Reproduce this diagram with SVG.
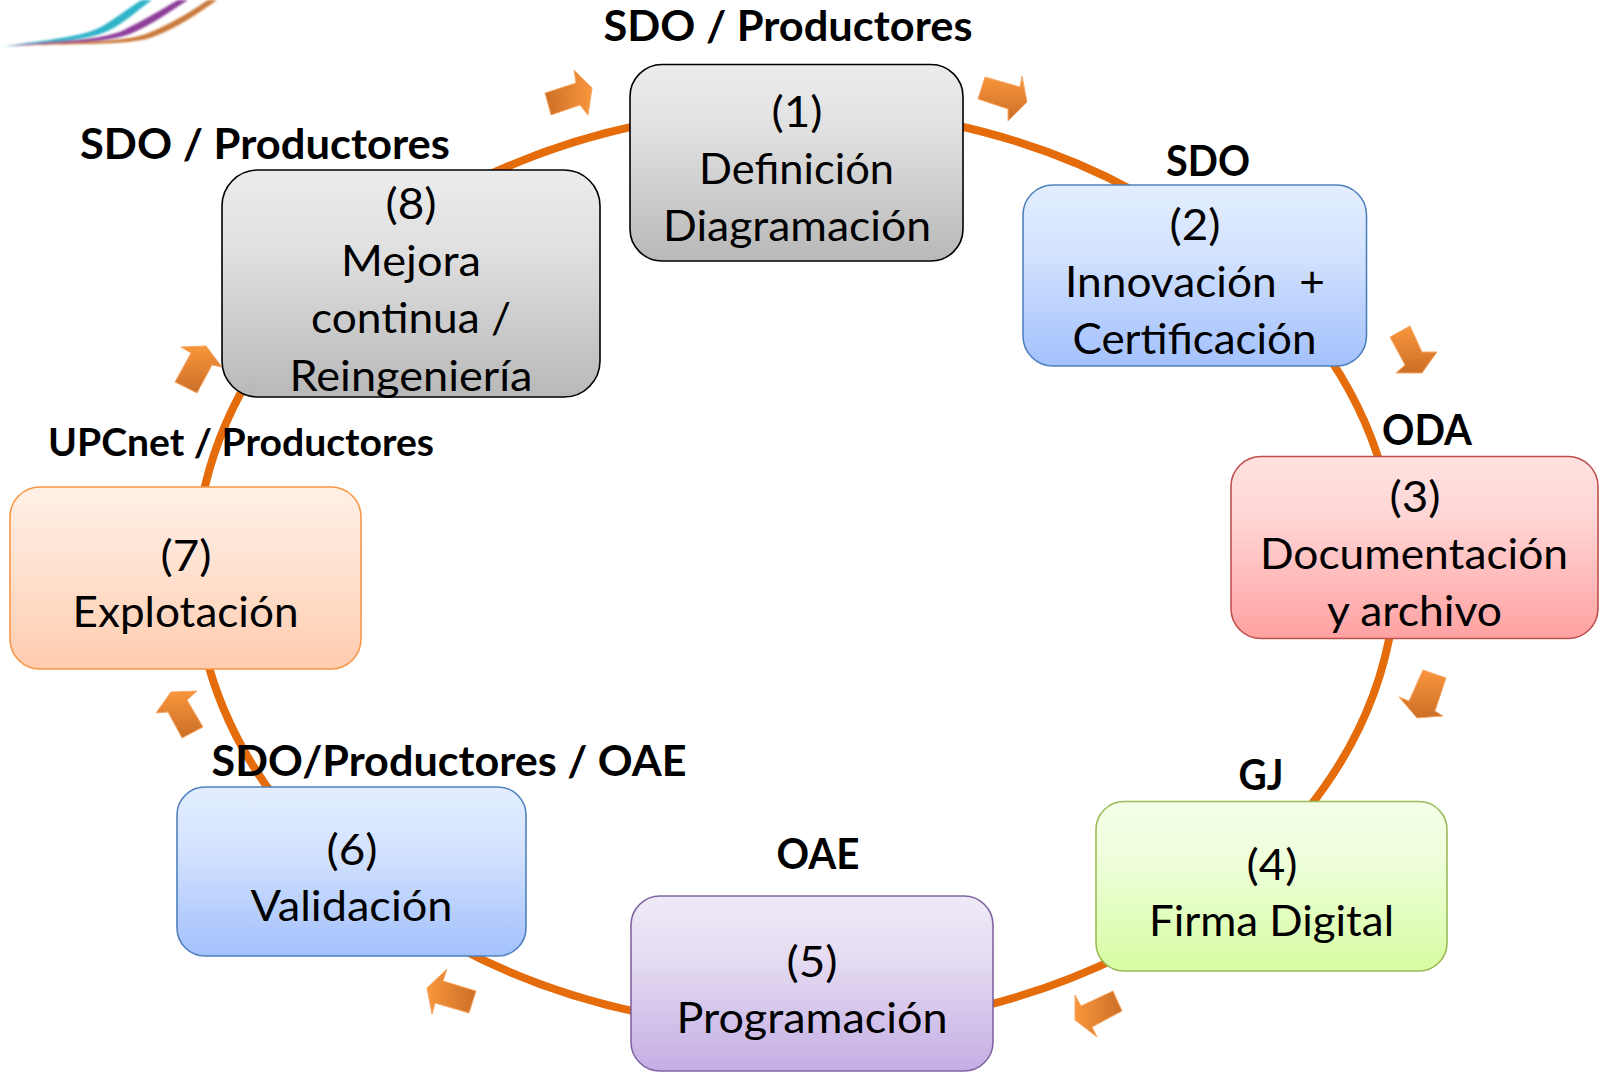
<svg xmlns="http://www.w3.org/2000/svg" width="1604" height="1074" viewBox="0 0 1604 1074">
<style>
.b{font:400 43px Lato,"Liberation Sans",sans-serif;fill:#000;text-anchor:middle}
.t{font:700 42px Lato,"Liberation Sans",sans-serif;fill:#000;text-anchor:middle}
.t2{font:700 38px Lato,"Liberation Sans",sans-serif;fill:#000;text-anchor:middle}
.r{stroke-width:1.6}
.l{fill:none;stroke:#E46C0A;stroke-width:8}
.a{stroke:#F9A766;stroke-width:1;stroke-linejoin:round}
</style>
<defs>
<linearGradient id="gGray" x1="0" y1="0" x2="0" y2="1"><stop offset="0" stop-color="#ECECEC"/><stop offset=".35" stop-color="#E0E0E0"/><stop offset="1" stop-color="#B8B8B8"/></linearGradient>
<linearGradient id="gBlue" x1="0" y1="0" x2="0" y2="1"><stop offset="0" stop-color="#E3EEFF"/><stop offset=".35" stop-color="#D5E3FE"/><stop offset="1" stop-color="#A3C1FD"/></linearGradient>
<linearGradient id="gRed" x1="0" y1="0" x2="0" y2="1"><stop offset="0" stop-color="#FFE2E1"/><stop offset=".35" stop-color="#FFD5D4"/><stop offset="1" stop-color="#FFA1A1"/></linearGradient>
<linearGradient id="gGreen" x1="0" y1="0" x2="0" y2="1"><stop offset="0" stop-color="#F4FFE8"/><stop offset=".35" stop-color="#EEFEDA"/><stop offset="1" stop-color="#D7FDA2"/></linearGradient>
<linearGradient id="gPurple" x1="0" y1="0" x2="0" y2="1"><stop offset="0" stop-color="#EFEAF7"/><stop offset=".35" stop-color="#E5DCF2"/><stop offset="1" stop-color="#C4AEE4"/></linearGradient>
<linearGradient id="gOrange" x1="0" y1="0" x2="0" y2="1"><stop offset="0" stop-color="#FFF0E6"/><stop offset=".35" stop-color="#FFE5D5"/><stop offset="1" stop-color="#FFCCAF"/></linearGradient>
<linearGradient id="aD" x1="0" y1="0" x2="0" y2="1"><stop offset="0" stop-color="#F9963C"/><stop offset="1" stop-color="#CB6F27"/></linearGradient>
<linearGradient id="aL" x1="0" y1="0" x2="1" y2="0"><stop offset="0" stop-color="#F9963C"/><stop offset="1" stop-color="#CB6F27"/></linearGradient>
<linearGradient id="aR" x1="0" y1="0" x2="1" y2="0"><stop offset="0" stop-color="#CB6F27"/><stop offset="1" stop-color="#F9963C"/></linearGradient>
<filter id="soft" x="-10%" y="-30%" width="120%" height="160%"><feGaussianBlur stdDeviation="0.8"/></filter>
</defs>

<g id="logo" filter="url(#soft)">
<path d="M2,47 C48,39 84,38 106,24 C122,14 134,4 142,0 L152,0 C140,8 128,20 112,29 C90,41 50,42 2,47Z" fill="#2FB3C8"/>
<path d="M8,46 C60,40 100,41 124,30 C146,19 166,7 178,0 L188,0 C172,10 152,25 130,34 C106,43 60,43 8,46Z" fill="#8E3C9A"/>
<path d="M14,46 C70,41 120,43 146,34 C172,24 196,8 208,0 L217,0 C200,12 176,29 150,38 C122,46 70,43 14,46Z" fill="#C9793A"/>
</g>

<g id="connectors">
<path class="l" d="M950,124 A598,460 0 0 1 1136,192"/>
<path class="l" d="M1320,344.5 A598,460 0 0 1 1382,470"/>
<path class="l" d="M1392.4,620 A598,460 0 0 1 1307,810"/>
<path class="l" d="M1125,954 A598,460 0 0 1 980,1007"/>
<path class="l" d="M640,1012.6 A598,460 0 0 1 460,948.5"/>
<path class="l" d="M280.500,805 A598,460 0 0 1 204.500,650"/>
<path class="l" d="M202,500 A598,460 0 0 1 248,380"/>
<path class="l" d="M480,179 A598,460 0 0 1 640,125"/>
<polygon class="a" fill="url(#aR)" points="545,93 551,115 580,105 588,115 592,88 574,70 576,83"/>
<polygon class="a" fill="url(#aD)" points="985,77 978,99 1008,109 1008,121 1027,102 1022,76 1020,87"/>
<polygon class="a" fill="url(#aD)" points="1390,337 1410,326 1422,352 1437,352 1422,373 1396,373 1405,365"/>
<polygon class="a" fill="url(#aD)" points="1423,670 1446,678 1435,711 1443,716 1417,718 1399,697 1409,701"/>
<polygon class="a" fill="url(#aL)" points="1113,991 1122,1011 1092,1027 1097,1037 1075,1020 1075,995 1081,1006"/>
<polygon class="a" fill="url(#aL)" points="476,991 469,1013 435,1003 432,1014 427,988 447,969 443,981"/>
<polygon class="a" fill="url(#aD)" points="203,727 182,738 168,712 156,713 171,692 197,691 187,700"/>
<polygon class="a" fill="url(#aD)" points="175,382 197,393 212,365 222,367 206,346 181,347 191,353"/>
</g>

<g id="node1">
<rect class="r" x="630" y="64.500" width="333" height="196.500" rx="32" fill="url(#gGray)" stroke="#000"/>
<text class="t" x="788" y="41" textLength="369" lengthAdjust="spacingAndGlyphs">SDO / Productores</text>
<text class="b" x="797" y="127" textLength="51" lengthAdjust="spacingAndGlyphs">(1)</text>
<text class="b" x="796.500" y="184" textLength="195" lengthAdjust="spacingAndGlyphs">Definición</text>
<text class="b" x="797" y="241" textLength="268" lengthAdjust="spacingAndGlyphs">Diagramación</text>
</g>
<g id="node2">
<rect class="r" x="1023" y="185" width="343.500" height="181" rx="30" fill="url(#gBlue)" stroke="#4F81BD"/>
<text class="t" x="1208" y="176" textLength="84" lengthAdjust="spacingAndGlyphs">SDO</text>
<text class="b" x="1195" y="240" textLength="51" lengthAdjust="spacingAndGlyphs">(2)</text>
<text class="b" x="1195" y="297" textLength="260" lengthAdjust="spacingAndGlyphs" xml:space="preserve">Innovación  +</text>
<text class="b" x="1194.500" y="354" textLength="244" lengthAdjust="spacingAndGlyphs">Certificación</text>
</g>
<g id="node3">
<rect class="r" x="1231" y="456.500" width="367" height="182" rx="30" fill="url(#gRed)" stroke="#C0504D"/>
<text class="t" x="1427" y="445" textLength="90" lengthAdjust="spacingAndGlyphs">ODA</text>
<text class="b" x="1415" y="512" textLength="51" lengthAdjust="spacingAndGlyphs">(3)</text>
<text class="b" x="1414" y="569" textLength="308" lengthAdjust="spacingAndGlyphs">Documentación</text>
<text class="b" x="1414.500" y="626" textLength="175" lengthAdjust="spacingAndGlyphs">y archivo</text>
</g>
<g id="node4">
<rect class="r" x="1096" y="801.500" width="351" height="169.500" rx="28" fill="url(#gGreen)" stroke="#9BBB59"/>
<text class="t" x="1261" y="790" textLength="45" lengthAdjust="spacingAndGlyphs">GJ</text>
<text class="b" x="1272" y="880" textLength="51" lengthAdjust="spacingAndGlyphs">(4)</text>
<text class="b" x="1271.500" y="936" textLength="245" lengthAdjust="spacingAndGlyphs">Firma Digital</text>
</g>
<g id="node5">
<rect class="r" x="631" y="896" width="362" height="175" rx="29" fill="url(#gPurple)" stroke="#8064A2"/>
<text class="t" x="818" y="869" textLength="83" lengthAdjust="spacingAndGlyphs">OAE</text>
<text class="b" x="812" y="977" textLength="51" lengthAdjust="spacingAndGlyphs">(5)</text>
<text class="b" x="812" y="1033" textLength="271" lengthAdjust="spacingAndGlyphs">Programación</text>
</g>
<g id="node6">
<rect class="r" x="177" y="787" width="349" height="169" rx="28" fill="url(#gBlue)" stroke="#4F81BD"/>
<text class="t" x="449" y="776" textLength="475" lengthAdjust="spacingAndGlyphs">SDO/Productores / OAE</text>
<text class="b" x="352" y="864.500" textLength="51" lengthAdjust="spacingAndGlyphs">(6)</text>
<text class="b" x="351.500" y="921" textLength="202" lengthAdjust="spacingAndGlyphs">Validación</text>
</g>
<g id="node7">
<rect class="r" x="10" y="487" width="351" height="182" rx="30" fill="url(#gOrange)" stroke="#F79646"/>
<text class="t2" x="241" y="456" textLength="386" lengthAdjust="spacingAndGlyphs">UPCnet / Productores</text>
<text class="b" x="186" y="571" textLength="51" lengthAdjust="spacingAndGlyphs">(7)</text>
<text class="b" x="185.500" y="627" textLength="226" lengthAdjust="spacingAndGlyphs">Explotación</text>
</g>
<g id="node8">
<rect class="r" x="222" y="170" width="378" height="227" rx="36" fill="url(#gGray)" stroke="#000"/>
<text class="t" x="265" y="159" textLength="370" lengthAdjust="spacingAndGlyphs">SDO / Productores</text>
<text class="b" x="411" y="219" textLength="51" lengthAdjust="spacingAndGlyphs">(8)</text>
<text class="b" x="411" y="276" textLength="140" lengthAdjust="spacingAndGlyphs">Mejora</text>
<text class="b" x="411" y="332.500" textLength="200" lengthAdjust="spacingAndGlyphs">continua /</text>
<text class="b" x="411" y="391" textLength="243" lengthAdjust="spacingAndGlyphs">Reingeniería</text>
</g>
</svg>
